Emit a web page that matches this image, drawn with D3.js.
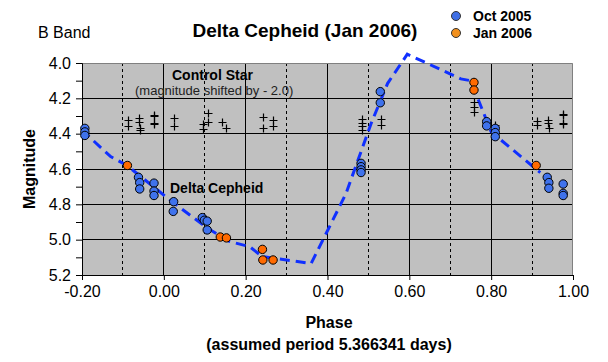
<!DOCTYPE html>
<html><head><meta charset="utf-8">
<script src="https://cdn.jsdelivr.net/npm/d3@7"></script>
<style>
html,body{margin:0;padding:0;background:#fff;}
svg{display:block;font-family:"Liberation Sans",Arial,sans-serif;}
</style></head>
<body><svg id="c" width="608" height="362"></svg>
<script>
// ---- data ----
const xTicks = [-0.2, 0.0, 0.2, 0.4, 0.6, 0.8, 1.0];
const xDashed = [-0.1, 0.1, 0.3, 0.5, 0.7, 0.9];
const yTicks = [4.0, 4.2, 4.4, 4.6, 4.8, 5.0, 5.2];
const yMinor = [4.1, 4.3, 4.5, 4.7, 4.9, 5.1];

const curvePhase = [-0.20,-0.13,-0.09,0.02,0.11,0.16,0.21,0.24,0.30,0.36,0.445,0.507,0.547,0.585,0.595,0.726,0.75,0.80,0.92];
const curveMag   = [4.38,4.53,4.58,4.785,4.94,5.01,5.04,5.095,5.115,5.135,4.74,4.34,4.115,3.985,3.95,4.09,4.10,4.39,4.62];

const octPhase = [-0.193,-0.193,-0.193,-0.062,-0.059,-0.059,-0.024,-0.024,-0.024,0.024,0.023,0.094,0.099,0.106,0.106,0.482,0.482,0.482,0.482,0.529,0.529,0.789,0.789,0.81,0.81,0.81,0.937,0.941,0.941,0.976,0.976,0.976];
const octMag   = [4.37,4.39,4.41,4.647,4.677,4.713,4.68,4.725,4.75,4.785,4.84,4.875,4.89,4.895,4.945,4.568,4.587,4.605,4.62,4.162,4.225,4.332,4.356,4.37,4.394,4.417,4.647,4.677,4.709,4.685,4.738,4.75];

const janPhase = [-0.089,0.138,0.153,0.241,0.242,0.267,0.758,0.758,0.91];
const janMag   = [4.58,4.985,4.99,5.055,5.115,5.115,4.11,4.153,4.58];

const ctlPhase = [-0.087,-0.087,-0.061,-0.061,-0.059,-0.059,-0.024,-0.024,-0.024,-0.024,0.025,0.025,0.096,0.096,0.108,0.108,0.141,0.151,0.242,0.242,0.268,0.268,0.485,0.485,0.485,0.485,0.531,0.531,0.759,0.759,0.759,0.81,0.911,0.911,0.94,0.94,0.942,0.976,0.976,0.976,0.976];
const ctlMag   = [4.32,4.357,4.313,4.332,4.37,4.379,4.294,4.30,4.338,4.344,4.313,4.357,4.345,4.374,4.285,4.332,4.332,4.37,4.307,4.37,4.323,4.357,4.319,4.341,4.357,4.379,4.319,4.353,4.219,4.247,4.276,4.351,4.327,4.353,4.323,4.341,4.37,4.289,4.295,4.338,4.344];

const legendLabels = ["Oct 2005","Jan 2006"];
const legendColors = ["#3f6fe6","#f2901c"];

// ---- drawing ----
const svg = d3.select("#c");
const x = d3.scaleLinear().domain([-0.2,1.0]).range([82,573]);
const y = d3.scaleLinear().domain([4.0,5.2]).range([63,275]);

svg.append("rect").attr("x",82).attr("y",63).attr("width",491).attr("height",212)
  .attr("fill","#c0c0c0");

const g = svg.append("g");
g.selectAll(".hg").data(yTicks.slice(1,-1)).enter().append("line")
  .attr("x1",82).attr("x2",573).attr("y1",d=>y(d)).attr("y2",d=>y(d))
  .attr("stroke","#000").attr("stroke-width",1).attr("shape-rendering","crispEdges");
g.selectAll(".vg").data(xTicks.slice(1,-1)).enter().append("line")
  .attr("x1",d=>x(d)).attr("x2",d=>x(d)).attr("y1",63).attr("y2",275)
  .attr("stroke","#000").attr("stroke-width",1).attr("shape-rendering","crispEdges");
g.selectAll(".vd").data(xDashed).enter().append("line")
  .attr("x1",d=>x(d)).attr("x2",d=>x(d)).attr("y1",63).attr("y2",275)
  .attr("stroke","#000").attr("stroke-width",1).attr("stroke-dasharray","3,3").attr("shape-rendering","crispEdges");

// border top/right
svg.append("path").attr("d","M82,63.5H572.5V275").attr("fill","none").attr("stroke","#808080").attr("stroke-width",1);

// axes
const yAxis = d3.axisLeft(y).tickValues(yTicks).tickFormat(d3.format(".1f")).tickSize(6).tickPadding(5);
const ya = svg.append("g").attr("transform","translate(82,0)").call(yAxis);
ya.select(".domain").attr("stroke","#000");
ya.selectAll("text").attr("font-size",16).attr("font-family","Liberation Sans, Arial, sans-serif").attr("fill","#000");
svg.append("g").attr("transform","translate(82,0)")
  .call(d3.axisLeft(y).tickValues(yMinor).tickFormat("").tickSize(6))
  .select(".domain").remove();

const fmtX = d => d3.format(".2f")(d).replace("\u2212","-");
const xAxis = d3.axisBottom(x).tickValues(xTicks).tickFormat(fmtX).tickSize(5).tickPadding(6);
const xa = svg.append("g").attr("transform","translate(0,275)").call(xAxis);
xa.select(".domain").attr("stroke","#000");
xa.selectAll("text").attr("font-size",16).attr("font-family","Liberation Sans, Arial, sans-serif").attr("fill","#000");

// curve
const curve = curvePhase.map((p,i)=>[p,curveMag[i]]);
svg.append("path").datum(curve)
  .attr("d",d3.line().x(d=>x(d[0])).y(d=>y(d[1])))
  .attr("fill","none").attr("stroke","#1030ff").attr("stroke-width",3).attr("stroke-dasharray","10,6");

// control star crosses
const ctl = ctlPhase.map((p,i)=>[p,ctlMag[i]]);
svg.append("g").selectAll("path").data(ctl).enter().append("path")
  .attr("d",d=>{const cx=Math.round(x(d[0]))+0.5, cy=Math.round(y(d[1]))+0.5; return `M${cx-4},${cy}H${cx+4}M${cx},${cy-4}V${cy+4}`;})
  .attr("stroke","#000").attr("stroke-width",1.2).attr("fill","none");

// points
function pts(ph, mg, col){
  svg.append("g").selectAll("circle").data(ph.map((p,i)=>[p,mg[i]])).enter().append("circle")
    .attr("cx",d=>x(d[0])).attr("cy",d=>y(d[1])).attr("r",4.2)
    .attr("fill",col).attr("stroke","#000").attr("stroke-width",1);
}
pts(octPhase, octMag, "#3f72ec");
pts(janPhase, janMag, "#ff6a00");

// annotations
svg.append("text").attr("x",172).attr("y",80).attr("font-size",14).attr("font-weight","bold").text("Control Star");
svg.append("text").attr("x",135).attr("y",95).attr("font-size",13).attr("fill","#222").text("(magnitude shifted by - 2.0)");
svg.append("text").attr("x",170).attr("y",193).attr("font-size",14).attr("font-weight","bold").text("Delta Cepheid");

// titles
svg.append("text").attr("x",305).attr("y",37).attr("text-anchor","middle").attr("font-size",19).attr("font-weight","bold").text("Delta Cepheid (Jan 2006)");
svg.append("text").attr("x",38).attr("y",38).attr("font-size",16).text("B Band");
svg.append("text").attr("transform","translate(35,169) rotate(-90)").attr("text-anchor","middle").attr("font-size",16).attr("font-weight","bold").text("Magnitude");
svg.append("text").attr("x",329).attr("y",328).attr("text-anchor","middle").attr("font-size",16).attr("font-weight","bold").text("Phase");
svg.append("text").attr("x",329).attr("y",350).attr("text-anchor","middle").attr("font-size",16).attr("font-weight","bold").text("(assumed period 5.366341 days)");

// legend
const lg = svg.append("g");
legendLabels.forEach((t,i)=>{
  lg.append("circle").attr("cx",456).attr("cy",16+i*17).attr("r",4.5).attr("fill",legendColors[i]).attr("stroke","#333").attr("stroke-width",1);
  lg.append("text").attr("x",473).attr("y",21+i*17).attr("font-size",14).attr("font-weight","bold")
    .attr("font-family","Liberation Sans Narrow, Arial Narrow, sans-serif").text(t);
});
</script></body></html>
